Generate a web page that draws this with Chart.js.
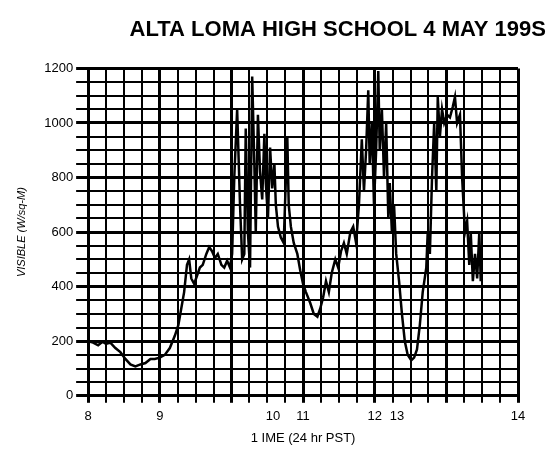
<!DOCTYPE html>
<html>
<head>
<meta charset="utf-8">
<script src="https://cdn.jsdelivr.net/npm/chart.js@4"></script>
<style>
  body { margin: 0; background: #fff; }
</style>
</head>
<body>
<canvas id="solarChart" width="551" height="454"></canvas>
<script>
// time of day in hours (PST)
const times = [
    8.00, 8.07, 8.14, 8.20, 8.25, 8.31, 8.38, 8.45, 8.52, 8.59, 8.66, 8.73, 8.80, 8.87, 8.93,
    9.00, 9.07, 9.14, 9.21, 9.26, 9.30, 9.34, 9.38, 9.41, 9.44, 9.48, 9.52, 9.56, 9.60, 9.65,
    9.69, 9.73, 9.77, 9.81, 9.86, 9.90, 9.94, 9.98,
    10.01, 10.04, 10.08, 10.12, 10.15, 10.18, 10.20, 10.23, 10.26, 10.29, 10.32, 10.34, 10.37,
    10.40, 10.43, 10.46, 10.48, 10.51, 10.54, 10.57, 10.60, 10.62, 10.65, 10.69, 10.73, 10.78,
    10.80, 10.83, 10.87, 10.92, 10.96,
    11.00, 11.04, 11.10, 11.15, 11.20, 11.24, 11.28, 11.32, 11.36, 11.40, 11.45, 11.49, 11.53,
    11.57, 11.61, 11.66, 11.70, 11.74, 11.78, 11.82, 11.85, 11.88, 11.91, 11.93, 11.96, 11.99,
    12.02, 12.05, 12.07, 12.10, 12.13, 12.16, 12.19, 12.21, 12.24, 12.27, 12.30, 12.34, 12.38,
    12.42, 12.46, 12.51, 12.55, 12.59, 12.63, 12.67, 12.72, 12.74, 12.77, 12.80, 12.83, 12.86,
    12.88, 12.91, 12.94, 12.97,
    13.01, 13.05, 13.09, 13.12, 13.15, 13.19, 13.22, 13.26, 13.29, 13.32, 13.34, 13.37, 13.40,
    13.43, 13.46, 13.48
];

// visible radiation, W/sq-M
const visible = [
    200, 195, 185, 198, 190, 195, 175, 160, 135, 115, 108, 115, 120, 135, 135,
    140, 150, 175, 220, 260, 320, 380, 480, 500, 430, 410, 440, 470, 480, 520,
    545, 530, 505, 520, 480, 470, 495, 470,
    520, 800, 1050, 700, 500, 520, 980, 600, 470, 1170, 850, 600, 1030,
    820, 720, 960, 780, 650, 910, 760, 850, 700, 620, 580, 560, 950,
    700, 620, 560, 520, 460,
    410, 380, 340, 300, 290, 320, 360, 420, 380, 450, 500, 470, 530,
    560, 520, 600, 620, 560, 700, 940, 750, 900, 1120, 850, 1000, 700,
    900, 1190, 900, 1050, 800, 1000, 650, 780, 600, 700, 520, 420, 300,
    200, 150, 130, 140, 170, 260, 380, 470, 600, 520, 800, 1000, 750,
    1095, 950, 1050, 1000,
    1030, 1020, 1060, 1095, 1000, 1030, 800, 600, 640, 480, 600, 420, 520,
    430, 600, 420
];

// x labels sit where the original print put them
const xTickValues = [8, 9, 10.58, 11, 12, 12.31, 14];
const xTickLabels = ['8', '9', '10', '11', '12', '13', '14'];

const points = times.map((t, i) => ({ x: t, y: visible[i] }));

function isGridTick(v) {
    return Math.abs(v * 4 - Math.round(v * 4)) < 1e-6;
}

const ctx = document.getElementById('solarChart').getContext('2d');
const solarChart = new Chart(ctx, {
    type: 'line',
    data: {
        datasets: [{
            data: points,
            borderColor: '#000',
            borderWidth: 2.5,
            pointRadius: 0,
            tension: 0,
            fill: false
        }]
    },
    options: {
        responsive: false,
        animation: false,
        layout: {
            padding: { left: 12, right: 5, bottom: 4 }
        },
        plugins: {
            legend: { display: false },
            tooltip: { enabled: false },
            title: {
                display: true,
                text: 'ALTA LOMA HIGH SCHOOL 4 MAY 199S',
                align: 'end',
                color: '#000',
                font: { family: 'Liberation Sans', size: 22, weight: 'bold' },
                padding: { top: 17, bottom: 25 }
            }
        },
        scales: {
            x: {
                type: 'linear',
                min: 8,
                max: 14,
                afterBuildTicks: (axis) => {
                    const ticks = [];
                    for (let i = 0; i <= 24; i++) ticks.push({ value: 8 + i * 0.25 });
                    xTickValues.forEach(v => {
                        if (!ticks.some(t => Math.abs(t.value - v) < 1e-6)) ticks.push({ value: v });
                    });
                    ticks.sort((a, b) => a.value - b.value);
                    axis.ticks = ticks;
                },
                ticks: {
                    autoSkip: false,
                    maxRotation: 0,
                    color: '#000',
                    padding: 6,
                    font: { family: 'Liberation Sans', size: 13 },
                    callback: function (value) {
                        const i = xTickValues.findIndex(v => Math.abs(v - value) < 1e-6);
                        return i >= 0 ? xTickLabels[i] : '';
                    }
                },
                grid: {
                    color: (c) => (c.tick && !isGridTick(c.tick.value)) ? 'rgba(0,0,0,0)' : '#000',
                    lineWidth: (c) => (c.tick && Number.isInteger(c.tick.value)) ? 3 : 2,
                    tickLength: 7
                },
                border: { color: '#000', width: 3 },
                title: {
                    display: true,
                    text: '1 IME (24 hr PST)',
                    color: '#000',
                    font: { family: 'Liberation Sans', size: 13 },
                    padding: { top: 0 }
                }
            },
            y: {
                min: 0,
                max: 1200,
                ticks: {
                    stepSize: 50,
                    autoSkip: false,
                    color: '#000',
                    padding: 3,
                    font: { family: 'Liberation Sans', size: 13 },
                    callback: (value) => value % 200 === 0 ? value : ''
                },
                grid: {
                    color: '#000',
                    lineWidth: (c) => (c.tick && c.tick.value % 200 === 0) ? 3 : 2,
                    tickLength: 12
                },
                border: { color: '#000', width: 3 },
                title: {
                    display: true,
                    text: 'VISIBLE (W/sq-M)',
                    color: '#000',
                    font: { family: 'Liberation Sans', size: 11, style: 'italic' },
                    padding: { top: 3, bottom: 13 }
                }
            },
            // empty right axis, only keeps a margin right of the plot
            yRight: {
                position: 'right',
                min: 0,
                max: 1200,
                grid: { display: false },
                border: { display: false },
                ticks: { display: false },
                afterFit: (axis) => { axis.width = 28; }
            }
        }
    }
});
</script>
</body>
</html>
